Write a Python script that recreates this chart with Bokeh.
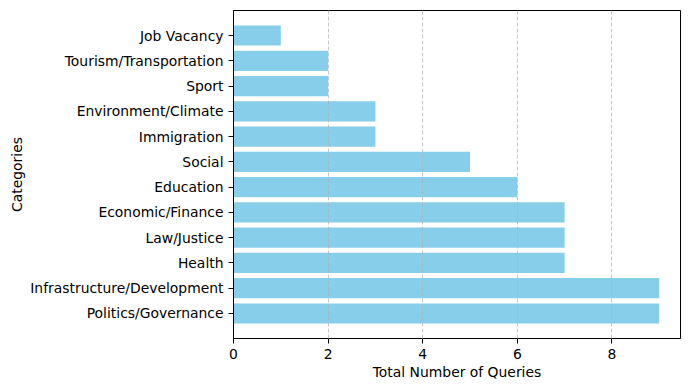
from bokeh.plotting import figure
from bokeh.models import FactorRange, Range1d, FixedTicker, ColumnDataSource
from bokeh.embed import file_html
from bokeh.resources import INLINE

categories = ["Politics/Governance", "Infrastructure/Development", "Health", "Law/Justice",
              "Economic/Finance", "Education", "Social", "Immigration",
              "Environment/Climate", "Sport", "Tourism/Transportation", "Job Vacancy"]
queries = [9, 9, 7, 7, 7, 6, 5, 3, 3, 2, 2, 1]
x_ticks = [0, 2, 4, 6, 8]

src = ColumnDataSource(dict(cat=categories, val=queries))

p = figure(width=690, height=390, output_backend="svg", toolbar_location=None,
           y_range=FactorRange(factors=categories, range_padding=0.98 / 12,
                               range_padding_units="percent"),
           x_range=Range1d(0, 9.45),
           min_border_left=233, min_border_right=10, min_border_top=10, min_border_bottom=52)

p.hbar(y="cat", right="val", left=0, height=0.8, source=src,
       fill_color="#87CEEB", line_color=None)

font = "DejaVu Sans"
for ax in (p.xaxis[0], p.yaxis[0]):
    ax.major_label_text_font = font
    ax.major_label_text_font_size = "13.9px"
    ax.major_label_text_color = "black"
    ax.axis_label_text_font = font
    ax.axis_label_text_font_size = "13.9px"
    ax.axis_label_text_font_style = "normal"
    ax.axis_label_text_color = "black"
    ax.major_tick_out = 5
    ax.major_tick_in = 0
    ax.minor_tick_line_color = None
    ax.major_tick_line_color = "black"
    ax.axis_line_color = "black"
    ax.major_label_standoff = 5

p.xaxis.axis_label = "Total Number of Queries"
p.yaxis.axis_label = "Categories"
p.xaxis.ticker = FixedTicker(ticks=x_ticks)
p.xaxis.axis_label_standoff = 2
p.yaxis.axis_label_standoff = 2

p.ygrid.grid_line_color = None
p.xgrid.ticker = FixedTicker(ticks=x_ticks)
p.xgrid.grid_line_color = "#b0b0b0"
p.xgrid.grid_line_alpha = 0.7
p.xgrid.grid_line_dash = "4 2"
p.xgrid.grid_line_width = 1
p.xgrid.level = "overlay"

p.outline_line_color = "black"
p.outline_line_alpha = 1
p.outline_line_width = 1

open("out.html", "w").write(file_html(p, INLINE))
